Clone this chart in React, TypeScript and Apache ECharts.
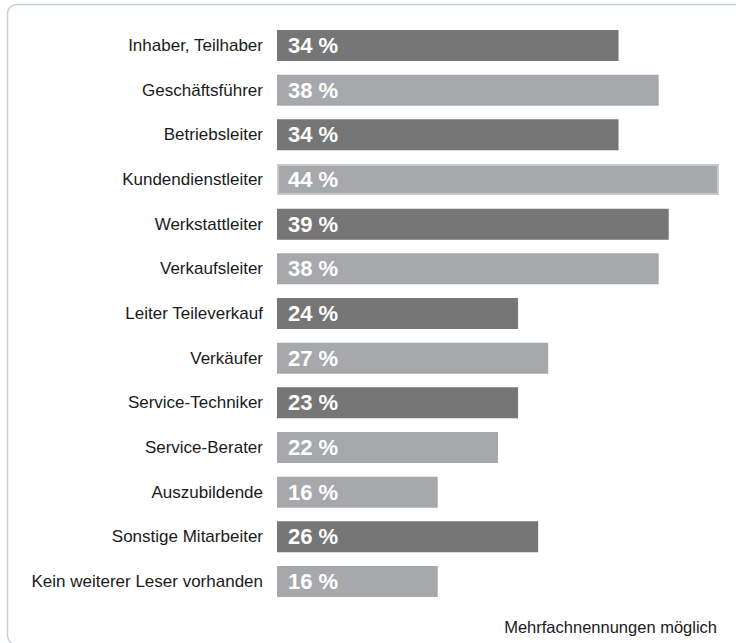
import React, { useEffect, useRef } from "react";
import * as echarts from "echarts";

const categories = [
  "Inhaber, Teilhaber",
  "Geschäftsführer",
  "Betriebsleiter",
  "Kundendienstleiter",
  "Werkstattleiter",
  "Verkaufsleiter",
  "Leiter Teileverkauf",
  "Verkäufer",
  "Service-Techniker",
  "Service-Berater",
  "Auszubildende",
  "Sonstige Mitarbeiter",
  "Kein weiterer Leser vorhanden",
];

// bar lengths as drawn in the picture (percent)
const barValues = [34, 38, 34, 44, 39, 38, 24, 27, 24, 22, 16, 26, 16];
// printed percentages
const percentLabels = [34, 38, 34, 44, 39, 38, 24, 27, 23, 22, 16, 26, 16];

const footnote = "Mehrfachnennungen möglich";

// styling (not data)
const DARK = "#767676";
const LIGHT = "#a7a8ac";
const shade = ["d", "l", "d", "l", "d", "l", "d", "l", "d", "l", "l", "d", "l"];
const highlighted = 3;

export default function App() {
  const ref = useRef<HTMLDivElement>(null);

  useEffect(() => {
    if (!ref.current) return;
    const chart = echarts.init(ref.current, undefined, { renderer: "svg" });
    const font = "'Liberation Sans', Arial, Helvetica, sans-serif";
    chart.setOption({
      animation: false,
      backgroundColor: "#ffffff",
      grid: { left: 277, right: 7, top: 23.2, bottom: 39.2, containLabel: false },
      xAxis: {
        type: "value",
        min: 0,
        max: 45,
        show: false,
      },
      yAxis: {
        type: "category",
        inverse: true,
        data: categories,
        axisLine: { show: false },
        axisTick: { show: false },
        splitLine: { show: false },
        axisLabel: {
          margin: 14,
          fontSize: 17,
          color: "#1a1a1a",
          fontFamily: font,
        },
      },
      series: [
        {
          type: "bar",
          barWidth: 31,
          data: barValues.map((v, i) => ({
            value: v,
            itemStyle: {
              color: shade[i] === "d" ? DARK : LIGHT,
              borderColor: i === highlighted ? "#c8c9cb" : undefined,
              borderWidth: i === highlighted ? 2 : 0,
            },
          })),
          label: {
            show: true,
            position: "insideLeft",
            distance: 11,
            formatter: (p: any) => `${percentLabels[p.dataIndex]} %`,
            color: "#ffffff",
            fontSize: 22,
            fontWeight: "bold",
            fontFamily: font,
          },
        },
      ],
      graphic: [
        {
          type: "rect",
          silent: true,
          shape: { x: 7.5, y: 4.5, width: 740, height: 640, r: 9 },
          style: { fill: "none", stroke: "#c6d0dc", lineWidth: 1.5 },
          z: 0,
        },
        {
          type: "text",
          silent: true,
          right: 19,
          top: 618,
          style: {
            text: footnote,
            fontSize: 16.5,
            fill: "#1a1a1a",
            fontFamily: font,
          },
        },
      ],
    });
    return () => chart.dispose();
  }, []);

  return (
    <div
      ref={ref}
      style={{ position: "fixed", left: 0, top: 0, width: 736, height: 643 }}
    />
  );
}
